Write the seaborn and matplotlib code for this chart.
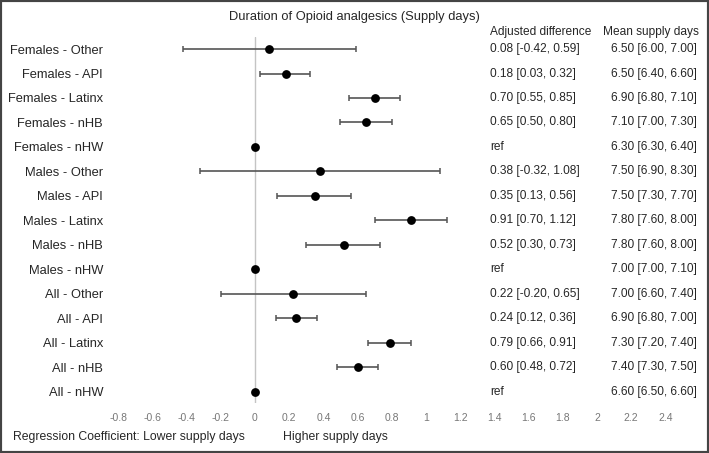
import matplotlib
matplotlib.use("Agg")
import matplotlib.pyplot as plt
import matplotlib.transforms as mtransforms
from matplotlib.patches import Rectangle
import seaborn as sns
import pandas as pd

groups = ["Females - Other", "Females - API", "Females - Latinx", "Females - nHB", "Females - nHW",
          "Males - Other", "Males - API", "Males - Latinx", "Males - nHB", "Males - nHW",
          "All - Other", "All - API", "All - Latinx", "All - nHB", "All - nHW"]
coef = [0.08, 0.18, 0.70, 0.65, 0.0, 0.38, 0.35, 0.91, 0.52, 0.0, 0.22, 0.24, 0.79, 0.60, 0.0]
ci_low = [-0.42, 0.03, 0.55, 0.50, None, -0.32, 0.13, 0.70, 0.30, None, -0.20, 0.12, 0.66, 0.48, None]
ci_high = [0.59, 0.32, 0.85, 0.80, None, 1.08, 0.56, 1.12, 0.73, None, 0.65, 0.36, 0.91, 0.72, None]
mean_days = [6.50, 6.50, 6.90, 7.10, 6.30, 7.50, 7.50, 7.80, 7.80, 7.00, 7.00, 6.90, 7.30, 7.40, 6.60]
mean_low = [6.00, 6.40, 6.80, 7.00, 6.30, 6.90, 7.30, 7.60, 7.60, 7.00, 6.60, 6.80, 7.20, 7.30, 6.50]
mean_high = [7.00, 6.60, 7.10, 7.30, 6.40, 8.30, 7.70, 8.00, 8.00, 7.10, 7.40, 7.00, 7.40, 7.50, 6.60]
xticks = [-0.8, -0.6, -0.4, -0.2, 0, 0.2, 0.4, 0.6, 0.8, 1, 1.2, 1.4, 1.6, 1.8, 2, 2.2, 2.4]

df = pd.DataFrame({"group": groups, "coef": coef, "lo": ci_low, "hi": ci_high, "pos": range(len(groups))})

sns.set_style("white")
plt.rcParams['font.family'] = ['Liberation Sans', 'DejaVu Sans']

W, H = 709, 453
fig = plt.figure(figsize=(W / 100, H / 100), dpi=100)
left, right, top, bottom = 110, 704, 37, 403
ax = fig.add_axes([left / W, 1 - bottom / H, (right - left) / W, (bottom - top) / H])

ax.axvline(0, color="#c4c4c4", lw=1, zorder=1)

# confidence intervals (ref rows have none)
ci = df.dropna()
ax.errorbar(ci["coef"], ci["pos"], xerr=[ci["coef"] - ci["lo"], ci["hi"] - ci["coef"]],
            fmt="none", ecolor="#555555", elinewidth=1.2, capsize=2.5, capthick=1.1, zorder=2)
sns.scatterplot(data=df, x="coef", y="pos", color="black", s=40, edgecolor="black",
                linewidth=0, zorder=3, ax=ax, legend=False)

ax.set_xlim((left - 255) / 171, (right - 255) / 171)
ax.set_ylim(len(groups) - 0.55, -0.49)
ax.set_xticks(xticks)
ax.set_xticklabels([f"{t:g}" for t in xticks], color="#777777", fontsize=7.5)
ax.set_yticks(range(len(groups)))
ax.set_yticklabels(groups, fontsize=9.3)
ax.tick_params(axis="x", length=0, pad=7)
ax.tick_params(axis="y", length=0, pad=5)
ax.set_xlabel("")
ax.set_ylabel("")
sns.despine(ax=ax, left=True, bottom=True)

tr = mtransforms.blended_transform_factory(fig.transFigure, ax.transData)
ax.text(490 / W, -0.69, "Adjusted difference", transform=tr, fontsize=8.6, ha="left", va="center")
ax.text(699 / W, -0.69, "Mean supply days", transform=tr, fontsize=8.6, ha="right", va="center")
for i in range(len(groups)):
    if ci_low[i] is None:
        adj = "ref"
    else:
        adj = f"{coef[i]:.2f} [{ci_low[i]:.2f}, {ci_high[i]:.2f}]"
    ax.text(490 / W, i, adj, transform=tr, fontsize=8.6, ha="left", va="center")
    ax.text(697 / W, i, f"{mean_days[i]:.2f} [{mean_low[i]:.2f}, {mean_high[i]:.2f}]",
            transform=tr, fontsize=8.6, ha="right", va="center")

fig.text(0.5, 1 - 17 / H, "Duration of Opioid analgesics (Supply days)", fontsize=9.3, ha="center", va="center")
fig.text(13 / W, 1 - 437 / H, "Regression Coefficient: Lower supply days", fontsize=8.8, ha="left", va="center")
fig.text(283 / W, 1 - 437 / H, "Higher supply days", fontsize=8.8, ha="left", va="center")

fig.patches.append(Rectangle((0, 0), 1, 1, transform=fig.transFigure, fill=False,
                             edgecolor="#444444", lw=3))

fig.savefig("out.png", dpi=100)
